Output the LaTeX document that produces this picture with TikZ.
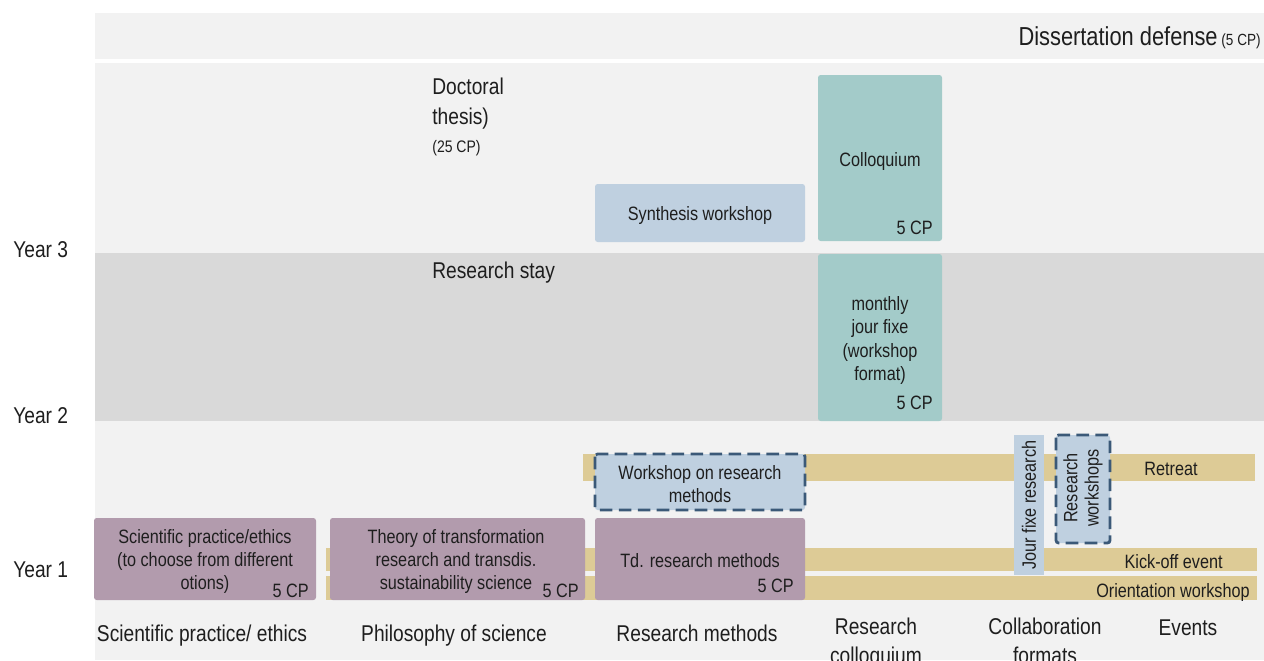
\documentclass[tikz,border=0pt]{standalone}
\usepackage{fontspec}
\setmainfont{Liberation Sans}[FakeStretch=0.84]
\definecolor{bandlight}{HTML}{F2F2F2}
\definecolor{banddark}{HTML}{D9D9D9}
\definecolor{lightblue}{HTML}{BFD0E0}
\definecolor{colloqteal}{HTML}{A3CBC9}
\definecolor{mauve}{HTML}{B29BAD}
\definecolor{eventtan}{HTML}{DDCB96}
\definecolor{dashblue}{HTML}{3B5978}
\definecolor{labeltext}{HTML}{1E1E1E}

\begin{document}
\begin{tikzpicture}[x=0.02cm, y=-0.02cm,
	boxfont/.style={font={\fontsize{11}{13}\selectfont}, text=labeltext, inner sep=0pt},
	bigfont/.style={font={\fontsize{13}{16.5}\selectfont}, text=labeltext, inner sep=0pt},
	dashbox/.style={fill=lightblue, draw=dashblue, line width=1.6pt, dash pattern=on 7.2pt off 3.6pt},
	corner/.style={rounded corners=1.5pt}]
	\useasboundingbox (0,0) rectangle (1264,660);
	\clip (0,0) rectangle (1264,660);
	\fill[white] (0,0) rectangle (1264,660);

	\fill[bandlight] (95,13) rectangle (1264,59);
	\fill[bandlight] (95,63) rectangle (1264,253);
	\fill[banddark] (95,253) rectangle (1264,421);
	\fill[bandlight] (95,421) rectangle (1264,660);

	\node[anchor=base east, text=labeltext, inner sep=0pt] (defense) at (1261,45) {\fontsize{14.8}{17}\selectfont Dissertation defense\fontsize{9.2}{11}\selectfont\ (5 CP)};
	\node[bigfont, anchor=north west, align=left, font={\fontsize{13}{17}\selectfont}] (thesis) at (432,78) {Doctoral\\thesis)};
	\node[anchor=base west, text=labeltext, inner sep=0pt, font={\fontsize{9.5}{11}\selectfont}] (thesiscp) at (432,152) {(25 CP)};
	\node[bigfont, anchor=base west] (stay) at (432,278) {Research stay};

	\node[bigfont, anchor=base west] (year3) at (13,257) {Year 3};
	\node[bigfont, anchor=base west] (year2) at (13,423) {Year 2};
	\node[bigfont, anchor=base west] (year1) at (13,577) {Year 1};

	\fill[lightblue, corner] (595,184) rectangle (805,242);
	\node[boxfont, anchor=base] (synthesis) at (700,220) {Synthesis workshop};

	\fill[colloqteal, corner] (818,75) rectangle (942,241);
	\node[boxfont, anchor=base] (colloq) at (880,166) {Colloquium};
	\node[boxfont, anchor=base east] (colloqcp) at (933,234) {5 CP};

	\fill[colloqteal, corner] (818,254) rectangle (942,421);
	\node[boxfont, anchor=north, align=center, font={\fontsize{11}{13.4}\selectfont}] (jourfixe) at (880,296) {monthly\\jour fixe\\(workshop\\format)};
	\node[boxfont, anchor=base east] (jourfixecp) at (933,409) {5 CP};

	\fill[eventtan] (583,454) rectangle (1255,481);
	\fill[eventtan] (326,548) rectangle (1257,571);
	\fill[eventtan] (326,576) rectangle (1257,600);
	\node[boxfont, anchor=base] (retreat) at (1171,475) {Retreat};
	\node[boxfont, anchor=base east] (kickoff) at (1223,568) {Kick-off event};
	\node[boxfont, anchor=base east] (orientation) at (1250,597) {Orientation workshop};

	\draw[dashbox, corner] (595,454) rectangle (805,510);
	\node[boxfont, anchor=north, align=center] (rmworkshop) at (700,465) {Workshop on research\\methods};

	\fill[mauve, corner] (94,518) rectangle (316,600);
	\node[boxfont, anchor=north, align=center] (ethics) at (205,529) {Scientific practice/ethics\\(to choose from different\\otions)};
	\node[boxfont, anchor=base east] (ethicscp) at (309,597) {5 CP};

	\fill[mauve, corner] (330,518) rectangle (585,600);
	\node[boxfont, anchor=north, align=center] (theory) at (456,529) {Theory of transformation\\research and transdis.\\sustainability science};
	\node[boxfont, anchor=base east] (theorycp) at (579,597) {5 CP};

	\fill[mauve, corner] (595,518) rectangle (805,600);
	\node[boxfont, anchor=base] (tdmethods) at (700,567) {Td. research methods};
	\node[boxfont, anchor=base east] (tdmethodscp) at (794,592) {5 CP};

	\fill[lightblue] (1014,435) rectangle (1044,575);
	\node[boxfont, rotate=90] (jfresearch) at (1029,505) {Jour fixe research};
	\draw[dashbox, corner] (1056,435) rectangle (1110,543);
	\node[boxfont, rotate=90, align=center, font={\fontsize{11}{12}\selectfont}] (resworkshops) at (1083,488) {Research\\workshops};

	\node[bigfont, anchor=base] (col1) at (202,641) {Scientific practice/ ethics};
	\node[bigfont, anchor=base] (col2) at (454,641) {Philosophy of science};
	\node[bigfont, anchor=base] (col3) at (697,641) {Research methods};
	\node[bigfont, anchor=north, align=center] (col4) at (876,618) {Research\\colloquium};
	\node[bigfont, anchor=north, align=center] (col5) at (1045,618) {Collaboration\\formats};
	\node[bigfont, anchor=base] (col6) at (1188,635) {Events};
\end{tikzpicture}
\end{document}
